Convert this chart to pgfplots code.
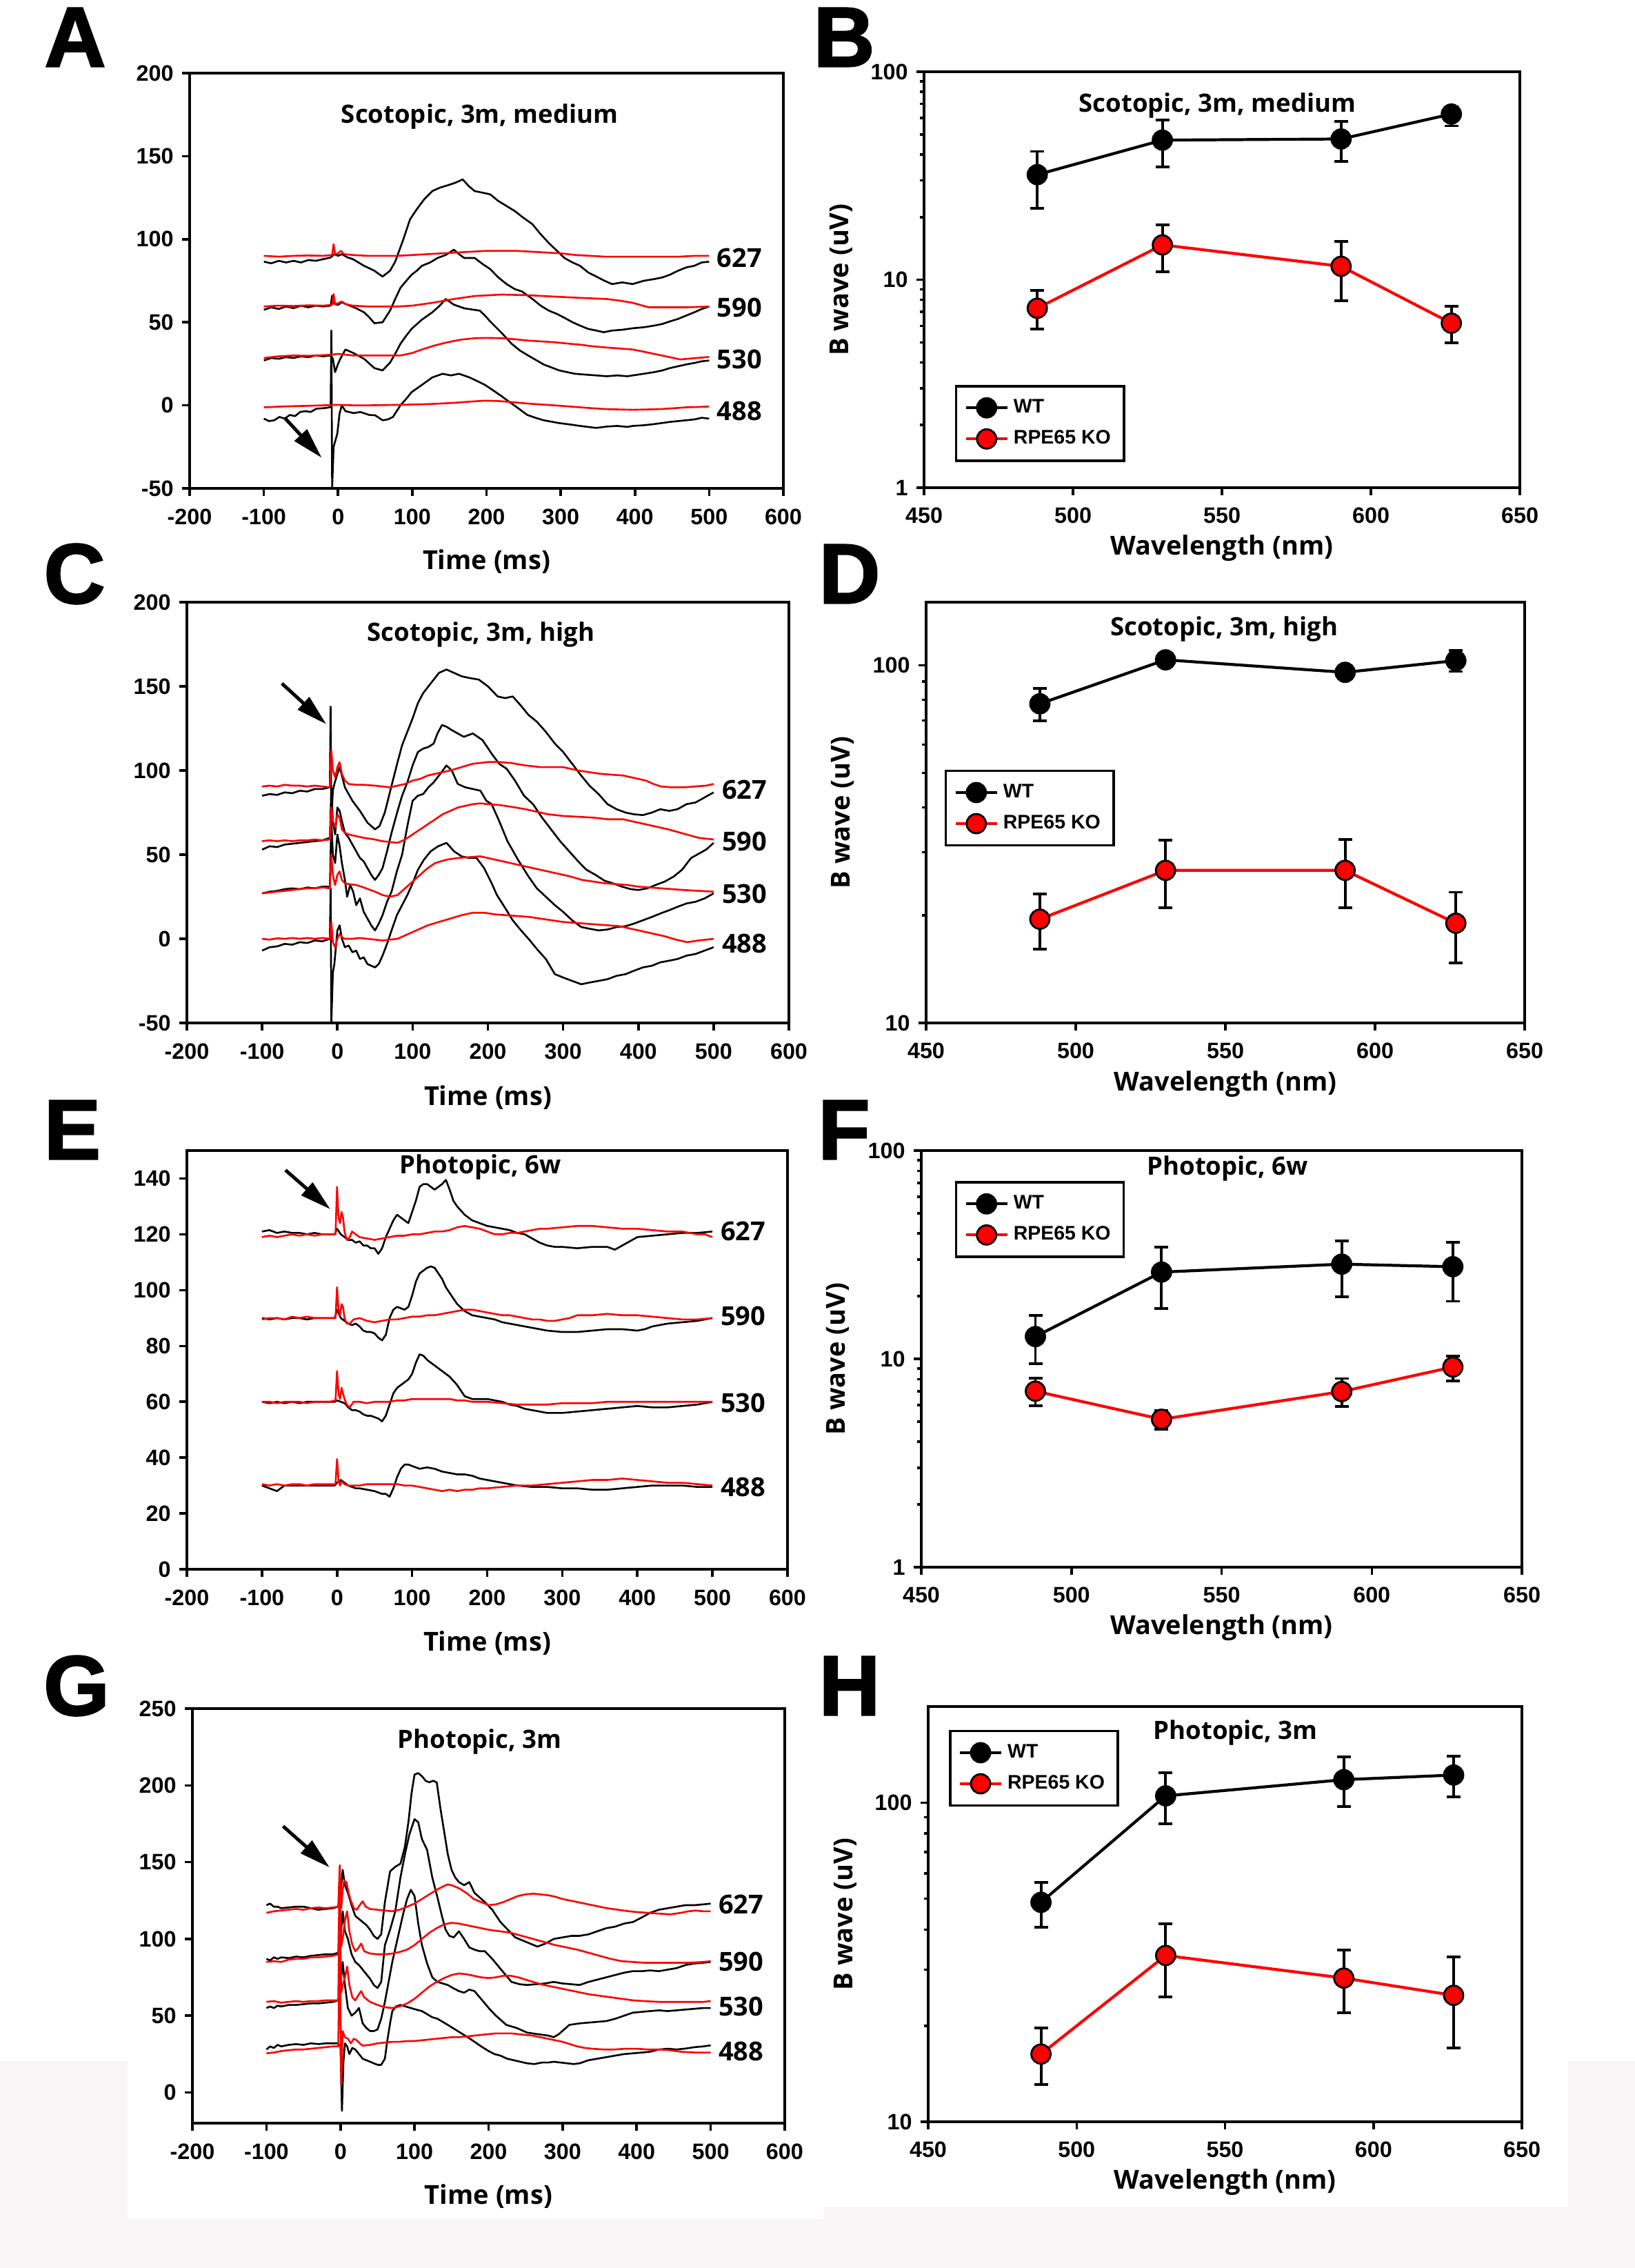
\documentclass[border=0pt]{standalone}
\usepackage{pgfplots}
\pgfplotsset{compat=1.18}
\usepackage{pgfplotstable}
\usetikzlibrary{arrows.meta}
\usepackage{fontspec}
\setmainfont{Open Sans}
\newfontfamily\tickfont{Liberation Sans}
\newfontfamily\letterfont{Liberation Sans}[FakeBold=2]
\definecolor{bggray}{RGB}{248,246,246}

\newcommand{\tkf}{\tickfont\bfseries\fontsize{9.2}{10}\selectfont}
\newcommand{\lbf}{\bfseries\fontsize{10.8}{12}\selectfont}
\newcommand{\ttf}{\bfseries\fontsize{10.4}{12}\selectfont}
\newcommand{\lgf}{\tickfont\bfseries\fontsize{8.1}{9}\selectfont}
\newcommand{\plet}{\letterfont\bfseries\fontsize{35}{36}\selectfont}

\pgfplotsset{
  panelax/.style={scale only axis, anchor=south west,
    axis line style={line width=1.2pt},
    tick style={black, line width=1pt},
    tick align=outside, tick pos=left,
    major tick length=0.11cm, minor tick length=0.06cm,
    tick label style={font=\tkf},
    xticklabel style={yshift=-0.06cm},
    /pgf/number format/assume math mode=true,
    label style={font=\lbf}},
  ergax/.style={panelax, xmin=-200, xmax=600, xtick={-200,-100,...,600},
    xlabel={Time (ms)},
    xlabel style={at={(axis description cs:0.5,-0.177)}, anchor=center}},
  bwax/.style={panelax, xmin=450, xmax=650, xtick={450,500,...,650},
    xlabel={Wavelength (nm)}, ylabel={B wave (uV)},
    xlabel style={at={(axis description cs:0.5,-0.145)}, anchor=center},
    ylabel style={at={(axis description cs:-0.139,0.5)}, anchor=center},
    legend cell align=left},
  trk/.style={black, line width=0.75pt, line join=round},
  trr/.style={red, line width=0.75pt, line join=round},
  serwt/.style={black, line width=1.2pt, mark=*, mark size=0.14cm,
    mark options={solid, fill=black, draw=black, line width=0.8pt},
    error bars/y dir=both, error bars/y explicit,
    error bars/error bar style={black, line width=1.1pt},
    error bars/error mark options={rotate=90, mark size=0.1cm, line width=1.1pt, black}},
  serko/.style={red, line width=1.2pt, mark=*, mark size=0.14cm,
    mark options={solid, fill=red, draw=black, line width=0.8pt},
    error bars/y dir=both, error bars/y explicit,
    error bars/error bar style={black, line width=1.1pt},
    error bars/error mark options={rotate=90, mark size=0.1cm, line width=1.1pt, black}},
}

% B wave amplitudes: x, mean, upper and lower error
\pgfplotstableread{
x y ep em
488 32 9.4 10
530 46.9 11.5 12.1
590 47.5 10.2 10.5
627 62.6 5.4 7.7
}\Bwt
\pgfplotstableread{
x y ep em
488 7.29 1.61 1.49
530 14.7 3.6 3.8
590 11.6 3.7 3.7
627 6.18 1.26 1.22
}\Bko
\pgfplotstableread{
x y ep em
488 78 8 8
530 103.5 4 4
590 95.5 4 4
627 103 7 7
}\Dwt
\pgfplotstableread{
x y ep em
488 19.5 3.4 3.4
530 26.7 5.7 5.7
590 26.7 5.9 5.7
627 19 4.2 4.3
}\Dko
\pgfplotstableread{
x y ep em
488 12.8 3.4 3.3
530 26.1 8.4 8.6
590 28.5 8.4 8.6
627 27.7 8.5 8.8
}\Fwt
\pgfplotstableread{
x y ep em
488 7.0 1.1 1.06
530 5.13 0.53 0.53
590 6.97 1.08 1.07
627 9.14 1.16 1.28
}\Fko
\pgfplotstableread{
x y ep em
488 48.7 7.5 8
530 105 19 19
590 118 21 21
627 122 18 18
}\Hwt
\pgfplotstableread{
x y ep em
488 16.3 3.4 3.2
530 33.2 8.6 8.6
590 28.2 6.3 6.2
627 24.9 7.9 7.9
}\Hko

\begin{document}
\begin{tikzpicture}
\useasboundingbox (0,0) rectangle (23.71,-32.88);
\fill[bggray] (0,-29.88) rectangle (23.71,-32.88);
\fill[white] (1.85,-29.88) rectangle (11.95,-32.17);
\fill[white] (11.95,-29.88) rectangle (22.74,-31.99);

\node[font=\plet] at (1.09,-0.54) {A};
\node[font=\plet] at (12.24,-0.54) {B};
\node[font=\plet] at (1.08,-8.32) {C};
\node[font=\plet] at (12.32,-8.32) {D};
\node[font=\plet] at (1.05,-16.38) {E};
\node[font=\plet] at (12.24,-16.38) {F};
\node[font=\plet] at (1.11,-24.44) {G};
\node[font=\plet] at (12.32,-24.44) {H};

% ---------------- A ----------------
\begin{axis}[ergax, at={(2.75cm,-7.08cm)}, width=8.61cm, height=6.02cm,
  ymin=-50, ymax=200, ytick={-50,0,...,200}]
\addplot[trk] coordinates {(-100,86.5)(-90,85.5)(-80,87)(-70,86)(-60,87)(-50,86)(-40,87.5)(-30,87)(-20,88)(-10,89)(-5,91)(0,90)(5,91)(13,89)(20,88)(35,84)(49,81)(60,77.5)(70,81)(77,86.5)(88,100)(97,112)(106,118)(116,124)(127,129)(137,131)(148,132.5)(158,134)(168,136)(176,132)(184,129)(195,128)(205,127)(216,123)(227,120)(238,117)(248,113.5)(262,109)(273,103)(284,97.7)(295,93)(305,88.7)(316,86)(326,84)(337,80)(348,77.5)(359,75)(369,73)(383,74)(397,73)(412,75)(426,76)(437,77)(447,78.6)(458,81)(469,83)(480,84)(490,86)(500,86.5)};
\addplot[trk] coordinates {(-100,57.5)(-90,59)(-80,58)(-70,59.5)(-60,58.5)(-50,60)(-40,59)(-30,60)(-20,59.5)(-10,60)(-8,66)(-5,61)(0,60.5)(5,62)(13,60.5)(24,58.5)(35,56)(42,53)(49,49.4)(60,50)(70,57)(77,64)(84,70.7)(92,75)(99,78.6)(106,81)(113,84)(124,86)(134,88.7)(145,90.5)(156,93.7)(163,91)(170,88.7)(184,88.7)(195,85)(205,82)(216,77)(227,73)(238,70)(248,68.5)(262,64)(273,60)(284,57)(295,55)(305,52.7)(316,50)(326,48)(337,46)(348,45)(358,44)(369,45)(383,45.5)(397,46.4)(412,47)(426,48)(437,49)(447,50.5)(458,52)(469,54)(480,56)(490,58)(500,59.5)};
\addplot[trk] coordinates {(-100,27)(-90,28.5)(-80,28)(-70,29)(-60,28.5)(-50,29.5)(-40,29)(-30,30)(-20,29.5)(-10,30)(-7,28)(-4,20)(0,25)(3,28)(10,33.6)(21,31.4)(35,28)(49,22.4)(60,21)(70,25.7)(77,31)(84,37)(92,42)(99,46)(113,51.6)(127,56)(137,60)(145,64)(156,60.6)(170,58.4)(191,57)(198,54)(205,50.5)(220,43.8)(234,37)(245,33)(255,30.3)(277,24.6)(298,21)(319,19)(333,18.5)(348,18)(362,17.5)(376,18)(390,17.5)(397,18)(412,19)(426,20)(437,21)(447,22.4)(458,23.5)(469,24.6)(480,25.5)(490,26.5)(500,27)};
\addplot[trk] coordinates {(-100,-8)(-93,-9.5)(-86,-9)(-79,-7)(-72,-8)(-65,-5.8)(-58,-6.5)(-51,-4)(-44,-3.5)(-37,-4)(-29,-2)(-22,-1.8)(-15,-1.5)(-10,-1)(-9,45)(-8,-50)(-6,-25)(-1,-17)(2,-5)(5,0)(10,-3.5)(21,-4.7)(30,-4)(42,-5.8)(50,-6)(60,-9)(67,-8.5)(74,-7)(84,0)(92,4)(99,7.9)(113,12.3)(127,16.8)(141,19)(152,18)(163,19)(177,16.8)(188,14.5)(198,12.3)(209,9)(220,5.6)(231,2)(241,-1.2)(255,-5.8)(266,-7.5)(277,-9)(298,-10.7)(312,-11.5)(326,-12.4)(337,-13)(348,-13.6)(362,-12.8)(376,-12.4)(390,-13)(397,-12.4)(412,-12)(426,-11.3)(447,-10)(458,-9.5)(469,-9)(480,-8.5)(490,-7.5)(500,-8)};
\addplot[trr] coordinates {(-100,90)(-80,89.5)(-60,90)(-40,90.2)(-20,90)(-8,90.5)(-6,97)(-4,91)(0,91.5)(4,93)(8,91)(20,90.5)(40,90)(60,90)(80,90)(100,90.5)(120,91)(140,91.5)(160,92)(180,92.5)(200,93)(220,93)(240,93)(260,92.5)(280,92)(300,91.5)(320,90.5)(340,90)(360,89.5)(380,89.5)(400,89.5)(420,89.5)(440,89.5)(460,89.5)(480,90)(500,90)};
\addplot[trr] coordinates {(-100,59.5)(-80,60)(-60,59.8)(-40,60.2)(-20,60)(-8,60.5)(-6,67)(-4,61)(0,61.5)(5,62.5)(10,61)(20,60)(40,59.5)(60,59.5)(80,59.5)(100,60)(127,61.7)(156,64)(184,65.8)(220,66.7)(255,66.3)(290,65.5)(326,64.7)(362,64)(380,63)(397,61.7)(419,59)(440,59)(469,59)(500,59.5)};
\addplot[trr] coordinates {(-100,28.5)(-80,29.5)(-60,30)(-40,29.8)(-20,30.2)(-8,30.5)(0,31)(10,30.5)(20,30)(42,30)(60,30)(84,30)(100,31.5)(113,33.6)(130,36)(148,38)(165,39.5)(184,40.4)(200,40.6)(220,40.4)(238,39.8)(255,39)(273,38.5)(291,38)(309,37.2)(326,36.5)(344,35.5)(362,34.8)(380,34.2)(397,33.6)(415,32)(433,30.3)(447,29)(461,27.6)(483,28.5)(500,29.1)};
\addplot[trr] coordinates {(-100,-1.2)(-80,-0.8)(-60,-0.5)(-40,-0.3)(-20,0)(0,0.3)(20,0)(42,0)(70,0.2)(90,0.4)(113,0.6)(135,1)(156,1.5)(177,2.2)(198,2.8)(215,2.6)(227,2.2)(255,1.1)(273,0.5)(291,0)(309,-0.6)(326,-1.2)(344,-1.8)(362,-2.3)(380,-2.5)(397,-2.7)(415,-2.5)(433,-2.3)(451,-1.8)(469,-1.2)(485,-1)(500,-0.7)};
\node[font=\ttf] at (axis cs:191,173.7) {Scotopic, 3m, medium};
\node[font=\lbf] at (axis cs:541,88.7) {627};
\node[font=\lbf] at (axis cs:541,59) {590};
\node[font=\lbf] at (axis cs:541,27.6) {530};
\node[font=\lbf] at (axis cs:541,-3.5) {488};
\draw[line width=1.4pt, -{Triangle[length=0.45cm, width=0.24cm]}] (axis cs:-72,-7.5) -- (axis cs:-22,-31.6);
\end{axis}

% ---------------- B ----------------
\begin{axis}[bwax, ymode=log, at={(13.40cm,-7.07cm)}, width=8.64cm, height=6.03cm,
  ymin=1, ymax=100, ytick={1,10,100}, yticklabels={1,10,100},
  minor ytick={2,3,...,9,20,30,...,90},
  legend style={at={(axis description cs:0.052,0.247)}, anchor=north west,
    draw=black, line width=1pt, fill=white, font=\lgf,
    inner xsep=0.12cm, inner ysep=0.12cm, row sep=0.06cm}]
\addplot[serwt] table[x=x, y=y, y error plus=ep, y error minus=em] {\Bwt};
\addlegendentry{WT}
\addplot[serko] table[x=x, y=y, y error plus=ep, y error minus=em] {\Bko};
\addlegendentry{RPE65 KO}
\node[font=\ttf] at (axis cs:548.5,68.9) {Scotopic, 3m, medium};
\end{axis}

% ---------------- C ----------------
\begin{axis}[ergax, at={(2.71cm,-14.83cm)}, width=8.73cm, height=6.10cm,
  ymin=-50, ymax=200, ytick={-50,0,...,200}]
\addplot[trk] coordinates {(-100,85)(-90,86)(-80,85.5)(-70,87)(-60,86.5)(-50,88)(-40,87.5)(-30,89)(-20,89)(-10,90)(-9,138)(-8,70)(-6,88)(-4,92)(0,98)(3,102)(6,97)(10,90)(20,82)(30,76)(40,69)(50,65)(56,67)(63,75)(72,91)(80,105)(86,115)(93,123)(100,131)(107,140)(114,146)(121,150)(128,154)(135,158)(145,160)(155,158)(165,156)(175,155)(188,154)(200,150)(213,144)(223,143)(233,144)(243,139)(254,133)(265,129)(277,123)(289,116)(300,111)(312,104)(324,97)(335,91)(347,86)(359,80)(371,77)(383,75)(394,74)(406,73.5)(418,75)(429,77)(441,76)(452,77)(464,80)(476,81)(488,84)(500,87)};
\addplot[trk] coordinates {(-100,53)(-90,55)(-80,54.5)(-70,56)(-60,56.5)(-50,57)(-40,57.5)(-30,58)(-20,58.5)(-10,60)(-8,90)(-6,70)(-3,62)(0,78)(3,76)(6,70)(10,63)(15,60)(20,56)(25,52)(30,48)(35,46)(40,42)(45,38)(50,35)(55,38)(60,42)(66,52)(72,63)(80,76)(86,85)(93,93)(100,103)(107,111)(114,113)(121,114)(128,116)(133,122)(139,127)(145,126)(152,124)(160,122)(168,120)(180,122)(193,118)(205,110)(215,104)(225,101)(236,94)(248,85)(260,80)(272,72)(284,65)(296,58)(308,52)(320,46)(331,41)(343,38)(355,34.5)(366,33)(378,31)(390,29.5)(400,29)(412,30)(423,32)(435,34)(447,37)(458,41)(470,48)(482,51)(490,53)(500,57)};
\addplot[trk] coordinates {(-100,27)(-90,28)(-80,28.5)(-70,29.5)(-60,30)(-50,29.5)(-40,30.5)(-30,30)(-20,31)(-10,31)(-8,70)(-6,50)(-3,45)(0,62)(3,55)(6,45)(10,35)(13,25)(17,32)(21,28)(25,20)(30,24)(35,16)(40,12)(45,8)(50,5)(55,9)(60,14)(66,22)(72,28)(79,40)(86,50)(93,67)(100,82)(107,85)(114,86)(121,90)(128,93)(135,97)(145,103)(152,100)(160,92)(170,90)(180,89)(190,88)(198,82)(205,80)(215,70)(226,58)(240,47)(254,37)(265,30)(277,25)(289,20)(300,16)(312,11)(324,7)(335,6)(347,5)(359,5.5)(371,7)(383,7.5)(394,9)(406,11)(418,13)(429,15)(441,17)(452,19)(464,21)(476,22)(488,24)(500,27)};
\addplot[trk] coordinates {(-100,-7)(-90,-5)(-80,-4.5)(-70,-3)(-60,-3.5)(-50,-2)(-40,-2.5)(-30,-1)(-20,-1.5)(-10,0)(-9,30)(-8,-50)(-6,-20)(-4,-15)(0,5)(3,8)(6,0)(10,-5)(15,-4)(20,-8)(25,-7)(30,-12)(35,-11)(40,-15)(45,-16)(50,-17)(55,-15)(60,-10)(66,-3)(72,5)(79,14)(86,20)(93,26)(100,33)(107,41)(115,47)(124,52)(134,55)(145,57)(155,52)(165,49)(175,48)(185,48)(195,42)(205,33)(212,26)(222,19)(233,11)(244,5)(254,0)(265,-6)(277,-12)(289,-21)(300,-23)(312,-25)(324,-27)(335,-26)(347,-25)(359,-24)(371,-22)(383,-21)(394,-19)(406,-17)(418,-16)(429,-14)(441,-13)(452,-12)(464,-10)(476,-9)(488,-7)(500,-5)};
\addplot[trr] coordinates {(-100,90.5)(-90,91)(-80,90.5)(-70,91.5)(-60,91)(-50,91)(-40,90.5)(-30,91)(-20,90.5)(-10,90)(-8,112)(-6,100)(-3,96)(0,102)(3,105)(6,98)(10,94)(15,92)(25,91.5)(35,91.5)(50,91)(60,90.5)(70,90)(80,91)(90,92)(100,94)(110,95)(120,97)(130,98)(140,99)(150,100)(165,102)(180,104)(200,105)(215,105)(230,104.5)(250,103)(270,102)(290,102)(300,102)(320,100)(335,99)(350,98)(365,97.5)(380,97)(395,95.5)(410,94)(420,92)(430,90.5)(445,90)(460,90)(475,90.5)(490,91)(500,92)};
\addplot[trr] coordinates {(-100,58)(-90,58.5)(-80,58)(-70,58.5)(-60,58)(-50,58.5)(-40,58.5)(-30,59)(-20,58.5)(-10,59)(-8,78)(-6,70)(-3,66)(0,74)(3,72)(6,65)(10,63)(15,62)(25,61)(35,60)(50,59)(60,58)(70,57.5)(80,57)(90,59)(100,62)(110,65)(120,68)(130,71)(140,74)(150,76)(160,78)(170,79)(180,80)(190,80.5)(200,80)(215,79.5)(230,78.5)(250,77)(265,75.5)(280,74)(300,73)(320,72.5)(340,72)(360,71)(380,71)(400,69)(420,67)(440,65)(460,62.5)(480,60)(500,59)};
\addplot[trr] coordinates {(-100,27)(-90,27.5)(-80,28)(-70,28.5)(-60,29)(-50,29.5)(-40,30)(-30,30)(-20,30.5)(-10,30)(-8,50)(-6,38)(-3,32)(0,38)(3,40)(6,35)(10,33)(15,32.5)(25,32)(35,30.5)(50,28)(60,26)(70,25)(80,26)(90,30)(100,34)(110,38)(120,42)(130,45)(145,47)(160,48)(175,48.5)(190,49)(205,47.5)(220,46)(235,44.5)(250,43)(265,41.5)(280,40)(295,38.5)(310,37)(325,35)(340,34)(355,33)(370,32.5)(385,32)(400,31)(415,30.5)(430,30)(445,29.5)(460,29)(480,28.5)(500,28)};
\addplot[trr] coordinates {(-100,0)(-90,-0.5)(-80,0.3)(-70,0)(-60,0.5)(-50,0)(-40,0.5)(-30,0)(-20,0.5)(-10,0)(-8,10)(-6,-2)(-3,-5)(0,0)(3,3)(6,1)(10,0)(20,0)(30,0.5)(40,0)(50,-0.5)(60,-1)(70,-0.5)(80,0)(90,2)(100,4)(110,6)(120,8)(135,10)(150,12)(165,14)(180,15.5)(195,15.5)(210,14.5)(225,14)(240,13.5)(255,13)(270,12)(285,11)(300,10)(315,9.5)(330,9)(345,8.5)(360,8)(375,7.5)(390,6)(405,4.5)(420,3)(435,1.5)(450,-0.5)(465,-2)(480,-1)(500,0)};
\node[font=\ttf] at (axis cs:191,180.7) {Scotopic, 3m, high};
\node[font=\lbf] at (axis cs:541,88.4) {627};
\node[font=\lbf] at (axis cs:541,57.7) {590};
\node[font=\lbf] at (axis cs:541,26.6) {530};
\node[font=\lbf] at (axis cs:541,-2.8) {488};
\draw[line width=1.4pt, -{Triangle[length=0.45cm, width=0.24cm]}] (axis cs:-73.7,151.7) -- (axis cs:-14.7,127.5);
\end{axis}

% ---------------- D ----------------
\begin{axis}[bwax, ymode=log, at={(13.43cm,-14.83cm)}, width=8.68cm, height=6.10cm,
  ymin=10, ymax=150, ytick={10,100}, yticklabels={10,100},
  minor ytick={20,30,...,90},
  legend style={at={(axis description cs:0.031,0.602)}, anchor=north west,
    draw=black, line width=1pt, fill=white, font=\lgf,
    inner xsep=0.12cm, inner ysep=0.12cm, row sep=0.06cm}]
\addplot[serwt] table[x=x, y=y, y error plus=ep, y error minus=em] {\Dwt};
\addlegendentry{WT}
\addplot[serko] table[x=x, y=y, y error plus=ep, y error minus=em] {\Dko};
\addlegendentry{RPE65 KO}
\node[font=\ttf] at (axis cs:549.6,126) {Scotopic, 3m, high};
\end{axis}

% ---------------- E ----------------
\begin{axis}[ergax, at={(2.71cm,-22.75cm)}, width=8.71cm, height=6.07cm,
  ymin=0, ymax=150, ytick={0,20,...,140}]
\addplot[trk] coordinates {(-100,121)(-90,121.5)(-80,120.5)(-70,121)(-60,120.5)(-50,120.5)(-40,120)(-30,120.5)(-20,120)(-10,120)(-3,120)(0,122)(5,120)(10,119)(15,118)(20,118)(25,117)(30,117.5)(35,116)(40,116)(45,115)(50,115)(55,113)(60,115)(65,119)(70,122)(75,125)(80,127)(85,126)(90,125)(95,124)(100,128)(105,132)(110,137)(115,138)(120,138)(125,137)(130,136)(135,137)(140,138)(145,139.5)(150,136)(155,132)(160,130)(170,127)(180,125)(190,124)(200,123)(210,122.5)(220,122)(230,121.5)(240,120.5)(250,120)(260,118.5)(270,117)(280,116)(290,115.5)(300,115.5)(320,115)(340,115.5)(360,115.5)(370,114.5)(380,116)(390,117.5)(400,119)(420,119.5)(440,120)(460,120.5)(480,120.5)(500,121)};
\addplot[trk] coordinates {(-100,90)(-90,89.5)(-80,90)(-70,89.5)(-60,90)(-50,90)(-40,89.5)(-30,90)(-20,90)(-10,90)(-3,90)(0,93)(5,90)(10,89)(15,88)(20,87.5)(25,88)(30,87)(35,85.5)(40,85)(45,85)(50,84.5)(55,83)(60,82)(65,84)(70,90)(75,93)(80,94)(85,93.5)(90,93)(95,94)(100,98)(105,103)(110,106)(115,107)(120,108)(125,108.5)(130,108)(135,106)(140,104)(145,101)(150,99)(160,95)(170,92.5)(180,91)(190,90.5)(200,90)(210,89.5)(220,88.5)(240,87.5)(260,86.5)(280,85.5)(300,85)(320,85)(340,85.5)(360,86)(380,86)(400,85.5)(410,86)(420,87)(440,88)(460,88.5)(480,89)(500,90)};
\addplot[trk] coordinates {(-100,60)(-90,59.5)(-80,60)(-70,59.5)(-60,60)(-50,59.5)(-40,60)(-30,60)(-20,60)(-10,60)(-3,60)(0,60.5)(5,60)(10,59.5)(15,58)(20,57)(25,57)(30,56.5)(35,55.5)(40,55)(45,55)(50,54.5)(55,54)(60,53)(65,55)(70,59)(75,63)(80,65)(85,66)(90,67)(95,68)(100,70)(105,74)(110,77)(115,76.5)(120,75)(125,74)(130,73)(140,71)(150,69)(160,66)(170,62)(180,61)(190,61)(200,61)(210,60.5)(220,60)(230,59)(240,58.5)(250,57.5)(260,57)(270,56.5)(280,56)(300,56)(320,56.5)(340,57)(360,57.5)(380,58)(400,58.5)(420,58)(440,58)(460,58.5)(480,59)(500,60)};
\addplot[trk] coordinates {(-100,30)(-95,29.5)(-90,29)(-85,28.5)(-80,28)(-75,29)(-70,30)(-60,30)(-50,30)(-40,30)(-30,30)(-20,30)(-10,30)(-3,30)(0,31)(5,32)(10,31)(15,30)(20,29.5)(25,29)(30,29)(40,28.5)(50,28)(60,27)(65,27)(70,26)(75,29)(80,33)(85,36)(90,37.5)(95,37.5)(100,37)(110,36)(120,36.5)(130,36)(140,35)(150,34.5)(160,34)(170,34)(180,33.5)(190,32.5)(200,32)(210,31.5)(220,31)(240,30)(260,29.5)(280,29.5)(300,29)(320,29)(340,28.5)(360,28.5)(380,29)(400,29.5)(420,30)(440,30)(460,30)(480,29.5)(500,29.5)};
\addplot[trr] coordinates {(-100,119)(-90,119.5)(-80,119)(-70,119.5)(-60,120)(-50,119.5)(-40,120)(-30,119.5)(-20,120)(-10,120)(-2,120)(0,137)(2,126)(4,124)(6,128)(8,126)(10,121)(13,118)(17,119)(20,121)(25,120)(30,119)(40,118.5)(50,118)(60,118.5)(70,119)(80,119.5)(90,119.5)(100,120)(110,120)(120,120.5)(130,121)(140,121)(150,121.5)(160,122.5)(170,123)(180,122.5)(190,122)(200,121)(210,120)(220,120)(230,120.5)(240,120.5)(250,121)(260,121.5)(270,122)(280,122)(300,122.5)(320,123)(340,123)(360,122.5)(380,122)(400,122)(420,121.5)(440,121)(460,121)(480,120)(490,120)(500,119)};
\addplot[trr] coordinates {(-100,89.5)(-90,90)(-80,90)(-70,89.5)(-60,90.5)(-50,90)(-40,90.5)(-30,90)(-20,90)(-10,90)(-2,90)(0,101)(2,93)(4,91)(6,95)(8,94)(10,90)(13,88)(17,88)(22,89.5)(30,90)(40,89)(50,88.5)(60,89)(70,89.5)(80,89.5)(90,90)(100,90.5)(110,90.5)(120,91)(130,91)(140,91.5)(150,92)(160,92.5)(170,93)(180,93)(190,92.5)(200,92)(210,91.5)(220,91)(230,91)(240,90.5)(250,90)(260,89.5)(270,89.5)(280,89)(290,89)(300,89.5)(310,90)(320,91)(330,91)(340,91)(360,91.5)(380,91)(400,91)(420,90.5)(440,90)(460,89.5)(480,89.5)(500,90)};
\addplot[trr] coordinates {(-100,60)(-90,60)(-80,59.5)(-70,60)(-60,60)(-50,60)(-40,59.5)(-30,60)(-20,60)(-10,60)(-2,60.5)(0,71)(2,63)(4,61)(6,65)(8,63)(10,61)(13,59)(17,58)(22,60)(30,60)(40,59.5)(50,60)(60,60)(70,60)(80,60.5)(90,60.5)(100,61)(110,61)(120,61)(130,61)(140,61)(150,61)(160,60.5)(170,60.5)(180,60)(190,60)(200,60)(220,59.5)(240,59)(260,59)(280,59)(300,59.5)(320,59.5)(340,59.5)(360,60)(380,60)(400,60)(420,60)(440,60)(460,60)(480,60)(500,60)};
\addplot[trr] coordinates {(-100,30.5)(-90,30)(-80,30.5)(-70,30)(-60,30.5)(-50,30.5)(-40,30)(-30,30.5)(-20,30.5)(-10,30.5)(-2,30.5)(0,39.5)(2,32)(4,30)(6,31.5)(10,30.5)(15,30)(20,30)(30,30)(40,30.5)(50,30.5)(60,30.5)(70,30.5)(80,30.5)(90,30)(100,30)(110,29.5)(120,29)(130,28.5)(140,28)(150,28.5)(160,28)(170,28.5)(180,28.5)(190,29)(200,29)(220,29.5)(240,30)(260,30)(280,30.5)(300,31)(320,31.5)(340,32)(360,32)(380,32.5)(400,32)(420,31.5)(440,31)(460,31)(480,30.5)(500,30)};
\node[font=\ttf] at (axis cs:191,144) {Photopic, 6w};
\node[font=\lbf] at (axis cs:541,121) {627};
\node[font=\lbf] at (axis cs:541,90.6) {590};
\node[font=\lbf] at (axis cs:541,59.7) {530};
\node[font=\lbf] at (axis cs:541,29.4) {488};
\draw[line width=1.4pt, -{Triangle[length=0.45cm, width=0.24cm]}] (axis cs:-68.7,143) -- (axis cs:-9,129);
\end{axis}

% ---------------- F ----------------
\begin{axis}[bwax, ymode=log, at={(13.36cm,-22.72cm)}, width=8.71cm, height=6.04cm,
  ymin=1, ymax=100, ytick={1,10,100}, yticklabels={1,10,100},
  minor ytick={2,3,...,9,20,30,...,90},
  legend style={at={(axis description cs:0.056,0.927)}, anchor=north west,
    draw=black, line width=1pt, fill=white, font=\lgf,
    inner xsep=0.12cm, inner ysep=0.12cm, row sep=0.06cm}]
\addplot[serwt] table[x=x, y=y, y error plus=ep, y error minus=em] {\Fwt};
\addlegendentry{WT}
\addplot[serko] table[x=x, y=y, y error plus=ep, y error minus=em] {\Fko};
\addlegendentry{RPE65 KO}
\node[font=\ttf] at (axis cs:552,81.9) {Photopic, 6w};
\end{axis}

% ---------------- G ----------------
\begin{axis}[ergax, at={(2.79cm,-30.78cm)}, width=8.59cm, height=6.01cm,
  ymin=-20, ymax=250, ytick={0,50,...,250}]
\addplot[trk] coordinates {(-100,122)(-95,123)(-90,121)(-85,121)(-80,120)(-70,120.5)(-60,121)(-50,121)(-40,120)(-30,119)(-20,119.5)(-10,120)(-3,121)(0,130)(3,145)(6,135)(10,130)(15,122)(20,115)(25,113)(30,111)(35,109)(40,106)(45,102)(50,100)(55,103)(60,124)(67,144)(74,147)(81,149)(87,160)(92,177)(96,195)(100,207)(105,208)(110,206)(115,203)(120,202)(125,203)(130,202)(135,185)(140,170)(145,155)(150,145)(155,140)(160,137)(167,135)(174,137)(181,130)(188,127)(195,124)(205,119)(216,111)(226,106)(236,101)(246,99)(256,97)(266,95)(277,97)(288,100)(300,101)(312,102)(323,102)(335,103)(347,105)(359,107)(371,108)(383,110)(395,111)(407,114)(418,117)(430,119)(442,120)(454,121)(466,122)(478,122)(490,122.5)(500,123)};
\addplot[trk] coordinates {(-100,87)(-95,86)(-90,88)(-85,87)(-80,88)(-70,87.5)(-60,88.5)(-50,88)(-40,89)(-30,89.5)(-20,90)(-10,90)(-3,91)(0,100)(3,118)(6,105)(10,100)(15,90)(20,85)(25,83)(30,80)(35,77)(40,74)(45,70)(50,68)(55,72)(60,96)(67,106)(74,118)(81,140)(87,155)(93,168)(100,178)(105,176)(110,165)(117,158)(124,140)(131,127)(137,115)(142,106)(147,102)(153,101)(160,105)(167,100)(174,94.5)(181,93)(188,92)(195,92)(205,87)(217,80)(224,76)(231,72)(242,70.5)(252,70)(264,70.5)(276,71)(288,72)(300,71)(312,70.5)(323,70)(335,72)(347,73.5)(359,75)(371,76.5)(383,78)(395,79)(407,79)(418,79.5)(430,79)(442,80)(454,81)(466,83)(478,84)(490,84.5)(500,85)};
\addplot[trk] coordinates {(-100,55)(-95,56)(-90,55)(-85,56.5)(-80,56)(-70,57)(-60,57)(-50,57.5)(-40,58)(-30,58)(-20,58.5)(-10,59)(-3,60)(0,70)(3,85)(6,70)(10,55)(15,50)(20,52)(25,55)(30,45)(35,42)(40,40)(45,40)(50,41)(55,48)(60,59)(65,72)(70,85)(77,100)(85,117)(90,126)(95,132)(100,128)(105,110)(110,96)(117,84)(124,75)(131,72)(138,71)(145,70)(152,68)(160,66)(167,65)(174,67)(181,66)(188,62)(195,58)(202,54)(210,50)(217,47)(224,44)(238,42)(252,39)(266,38)(281,37)(288,36)(295,38)(302,41)(309,44)(323,45)(335,45.5)(347,46)(359,46.5)(371,48)(383,50)(395,52)(407,52.5)(418,53)(430,53.5)(442,53)(454,53.5)(466,54)(478,54.5)(490,55)(500,55)};
\addplot[trk] coordinates {(-100,28)(-95,30)(-90,29)(-85,31)(-80,30)(-70,31)(-60,31.5)(-50,31)(-40,32)(-30,31.5)(-20,32)(-10,32)(-3,32)(0,30)(2,-12)(4,20)(6,32)(9,30)(12,25)(16,29)(20,28)(25,25)(30,22)(35,21)(40,20)(45,19)(50,18)(55,18)(60,22)(63,33)(67,45)(70,53)(75,56)(81,57)(88,56)(95,55)(102,54)(110,53)(117,51)(124,49)(131,48)(138,46)(145,44)(155,41)(165,38)(175,35)(181,33)(190,30)(200,27)(208,25)(216,24)(225,22)(234,21)(243,20)(252,19)(262,18.5)(272,19.5)(281,19.5)(288,20)(297,19.5)(306,19)(315,18.5)(323,19)(335,21)(347,22)(359,23)(371,24)(383,25)(395,25.5)(407,26)(418,26.5)(430,28)(442,28.5)(454,28)(466,28.6)(478,29.5)(490,30)(500,30.7)};
\addplot[trr] coordinates {(-100,117)(-90,118)(-80,118.5)(-70,119)(-60,119.5)(-50,119)(-40,120)(-30,120.5)(-20,120)(-10,120.5)(-3,121)(-1,148)(1,120)(3,132)(5,138)(8,137)(11,130)(14,125)(18,120)(22,119)(26,122)(30,124.5)(34,121)(40,119.5)(50,119)(60,118.5)(70,118)(80,119)(90,121)(100,123)(110,126)(120,129)(130,132)(140,134.5)(145,135.5)(150,135)(160,133)(170,130)(180,126)(190,124)(200,122)(210,122.5)(220,124)(230,126)(240,128)(250,129)(260,129.5)(270,129)(280,128.5)(290,127.5)(300,126)(315,124.5)(330,123)(345,121.5)(360,120)(375,119)(390,118)(400,117.5)(415,117)(430,116.5)(445,116)(460,117)(470,118)(480,118.5)(490,118)(500,118)};
\addplot[trr] coordinates {(-100,85)(-90,85.5)(-80,85)(-70,86.5)(-60,87)(-50,87)(-40,88)(-30,88)(-20,88.5)(-10,89)(-3,90)(-1,140)(1,95)(3,100)(6,112)(9,118)(12,105)(16,96)(20,92)(24,94)(28,97)(32,92)(40,90.5)(50,90)(60,90)(70,90.5)(80,91.5)(90,93)(100,96)(110,100)(120,104)(130,107)(140,109.5)(150,110.5)(160,110)(170,109)(180,108)(190,107)(200,106)(215,105)(230,104)(245,102)(260,100)(275,98)(290,96)(305,94.5)(320,93)(335,91)(350,89)(365,87)(380,85.5)(395,85)(410,84.5)(430,84.5)(450,84.5)(470,84.5)(490,85)(500,85.5)};
\addplot[trr] coordinates {(-100,59)(-90,59.5)(-80,58.5)(-70,59)(-60,59.5)(-50,59)(-40,59.5)(-30,59.5)(-20,60)(-10,60)(-3,60)(-1,130)(1,65)(3,70)(6,75)(9,82)(12,70)(16,62)(20,60)(25,64)(28,66)(32,62)(40,59)(50,57)(60,55.5)(70,55)(80,56)(90,58)(100,61)(110,65)(120,69)(130,72)(140,74.5)(150,76.5)(160,77.5)(170,77)(180,76)(190,75)(200,74.5)(210,75)(220,76)(230,76)(240,75)(250,73.5)(260,72)(275,70)(290,68.5)(305,67)(320,65.5)(335,64)(350,63)(365,62)(380,61)(395,60)(410,59.5)(430,59)(450,59)(470,59)(490,59)(500,59.5)};
\addplot[trr] coordinates {(-100,25.5)(-90,26)(-80,27)(-70,27.5)(-60,28)(-50,28)(-40,28.5)(-30,29)(-20,29.5)(-10,30)(-3,30)(-1,100)(1,5)(3,40)(6,36)(10,35)(14,32)(18,35)(22,34)(26,32)(30,30.5)(40,31)(50,32)(60,32.5)(70,33)(80,33)(90,33.5)(100,33.5)(110,34)(120,34.5)(130,35)(140,35.5)(150,36)(160,36)(170,36.5)(180,37)(190,37.5)(200,38)(210,38.5)(220,38.5)(230,38.5)(240,38)(250,37.5)(260,37)(270,36)(280,35)(290,34)(300,33)(310,31.5)(320,30)(330,29)(340,28.5)(355,28)(370,28)(385,28.5)(400,28.5)(415,28)(430,28)(445,27.5)(460,26.5)(480,26)(500,26)};
\node[font=\ttf] at (axis cs:188,228.6) {Photopic, 3m};
\node[font=\lbf] at (axis cs:541,122.6) {627};
\node[font=\lbf] at (axis cs:541,85.4) {590};
\node[font=\lbf] at (axis cs:541,56) {530};
\node[font=\lbf] at (axis cs:541,26.8) {488};
\draw[line width=1.4pt, -{Triangle[length=0.45cm, width=0.24cm]}] (axis cs:-77.5,173.4) -- (axis cs:-14.8,146.6);
\end{axis}

% ---------------- H ----------------
\begin{axis}[bwax, ymode=log, at={(13.46cm,-30.76cm)}, width=8.61cm, height=6.02cm,
  ymin=10, ymax=200, ytick={10,100}, yticklabels={10,100},
  minor ytick={20,30,...,90},
  legend style={at={(axis description cs:0.035,0.944)}, anchor=north west,
    draw=black, line width=1pt, fill=white, font=\lgf,
    inner xsep=0.12cm, inner ysep=0.12cm, row sep=0.06cm}]
\addplot[serwt] table[x=x, y=y, y error plus=ep, y error minus=em] {\Hwt};
\addlegendentry{WT}
\addplot[serko] table[x=x, y=y, y error plus=ep, y error minus=em] {\Hko};
\addlegendentry{RPE65 KO}
\node[font=\ttf] at (axis cs:553.5,165.5) {Photopic, 3m};
\end{axis}
\end{tikzpicture}
\end{document}
